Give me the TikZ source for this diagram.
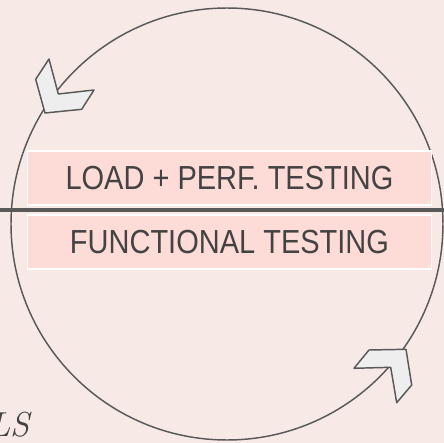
\documentclass[tikz,border=0pt]{standalone}
\usepackage{fontspec}
\usepackage{xcolor}
\usepackage{tikz}
\newfontfamily\boxfont[FakeStretch=0.87]{Liberation Sans}
\definecolor{slidebg}{HTML}{F7EAE6}
\definecolor{boxpink}{HTML}{FDDCD8}
\definecolor{ringgray}{HTML}{595959}
\definecolor{textgray}{HTML}{434343}
\definecolor{chevgray}{HTML}{EEEEEE}

\begin{document}
\begin{tikzpicture}[x=0.75pt,y=-0.75pt]
% ciclo di test - un pixel della slide per unita'
\fill[slidebg] (0,0) rectangle (444,443);
\useasboundingbox (0,0) rectangle (444,443);

\coordinate (C) at (227,224);
\coordinate (lineL) at (0,210);
\coordinate (lineR) at (444,210);

\draw[color=ringgray, line width=1.1pt] (C) circle (162pt);

\node[fill=boxpink, draw=white, line width=1pt, minimum width=303pt, minimum height=40.5pt, inner sep=0pt, text=textgray, font=\boxfont\fontsize{25}{30}\selectfont] (load) at (229.5,178) {LOAD + PERF. TESTING};
\node[fill=boxpink, draw=white, line width=1pt, minimum width=303pt, minimum height=40.5pt, inner sep=0pt, text=textgray, font=\boxfont\fontsize{25}{30}\selectfont] (func) at (229.5,242) {FUNCTIONAL TESTING};

\draw[color=ringgray, line width=3pt] (lineL) -- (lineR);

% punte di freccia a forma di chevron
\filldraw[color=ringgray, fill=chevgray, line width=1.1pt, line join=round] (49,59) -- (35.7,79.3) -- (45,113) -- (81.7,109.3) -- (94,90) -- (58.3,94) -- cycle;
\filldraw[color=ringgray, fill=chevgray, line width=1.1pt, line join=round] (406,349.3) -- (369,350) -- (354,368.3) -- (390.7,367.3) -- (396.7,402.7) -- (411.7,385) -- cycle;

\node[anchor=base east, inner sep=0pt, text=textgray, font=\fontsize{26}{30}\selectfont\itshape] (tools) at (30,436) {LS};

\end{tikzpicture}
\end{document}
